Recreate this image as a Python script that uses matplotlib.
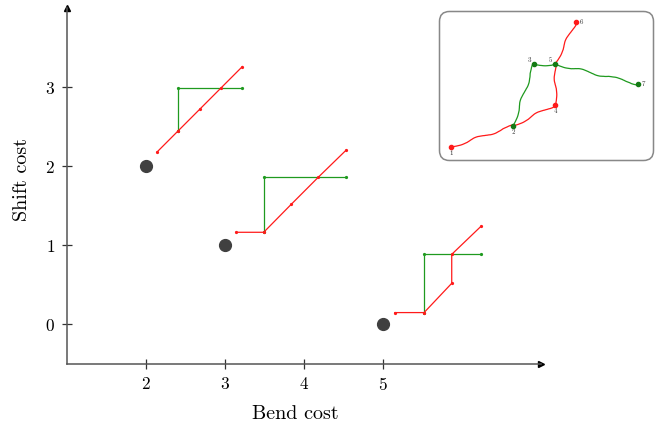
import matplotlib
matplotlib.use("Agg")
import matplotlib.pyplot as plt
from matplotlib.patches import FancyBboxPatch

plt.rcParams["font.family"] = "serif"
plt.rcParams["font.serif"] = ["cmr10"]
plt.rcParams["mathtext.fontset"] = "cm"
plt.rcParams["axes.formatter.use_mathtext"] = True

# --- data ---
dot_x = [2, 3, 5]
dot_y = [2, 1, 0]

red1_x = [2.14, 2.41, 2.68, 2.95, 3.22]
red1_y = [2.18, 2.45, 2.72, 2.99, 3.26]
green1_x = [2.41, 2.41, 3.22]
green1_y = [2.45, 2.99, 2.99]

red2_x = [3.14, 3.49, 3.84, 4.18, 4.53]
red2_y = [1.165, 1.165, 1.52, 1.86, 2.20]
green2_x = [3.49, 3.49, 4.53]
green2_y = [1.165, 1.86, 1.86]

red3_x = [5.15, 5.52, 5.87, 5.87, 6.24]
red3_y = [0.15, 0.15, 0.52, 0.886, 1.24]
green3_x = [5.52, 5.52, 6.24]
green3_y = [0.15, 0.886, 0.886]

x_ticks = [2, 3, 4, 5]
y_ticks = [0, 1, 2, 3]

# inset graph (box-relative coordinates)
nodes = {
    "1": (13, 137), "2": (75, 116), "3": (96, 54), "4": (117, 95),
    "5": (117, 54), "6": (138, 12), "7": (200, 74),
}
red_edges = [("1", "2"), ("2", "4"), ("4", "5"), ("5", "6")]
green_edges = [("2", "3"), ("3", "5"), ("5", "7")]
red_nodes = ["1", "4", "6"]
green_nodes = ["2", "3", "5", "7"]

RED = "#ff1a1a"
GREEN = "#1f9a1f"
AX = "#555555"

fig = plt.figure(figsize=(6.59, 4.22), dpi=100)
ax = fig.add_axes([67 / 659, 58 / 422, 474 / 659, 356 / 422])
ax.set_xlim(1, 7)
ax.set_ylim(-0.5, 4)

for gx, gy in [(green1_x, green1_y), (green2_x, green2_y), (green3_x, green3_y)]:
    ax.plot(gx, gy, color=GREEN, lw=0.9, marker="o", markersize=1.3)
for rx, ry in [(red1_x, red1_y), (red2_x, red2_y), (red3_x, red3_y)]:
    ax.plot(rx, ry, color=RED, lw=0.9, marker="o", markersize=1.3)

ax.plot(dot_x, dot_y, "o", color="#404040", markersize=8.5, linestyle="none")

for s in ["top", "right"]:
    ax.spines[s].set_visible(False)
for s in ["left", "bottom"]:
    ax.spines[s].set_color(AX)
    ax.spines[s].set_linewidth(1.1)
ax.plot(1, 0, marker=">", color="black", markersize=4, transform=ax.transAxes, clip_on=False)
ax.plot(0, 1, marker="^", color="black", markersize=4, transform=ax.transAxes, clip_on=False)

ax.set_xticks(x_ticks)
ax.set_yticks(y_ticks)
ax.tick_params(direction="inout", length=7, width=0.9, color="#333333",
               labelsize=12.5, pad=5)
ax.set_xlabel("Bend cost", fontsize=14.5)
ax.set_ylabel("Shift cost", fontsize=14.5)
ax.xaxis.set_label_coords(0.482, -0.115)
ax.yaxis.set_label_coords(-0.075, 0.517)

# --- inset ---
ins = fig.add_axes([438 / 659, 260 / 422, 217 / 659, 152 / 422])
ins.set_xlim(0, 217)
ins.set_ylim(152, 0)
ins.axis("off")
ins.add_patch(FancyBboxPatch((1.5, 1.5), 214, 149, boxstyle="round,pad=0,rounding_size=10",
                             facecolor="white", edgecolor="#888888", lw=1.1))

for a, b in red_edges:
    ln, = ins.plot([nodes[a][0], nodes[b][0]], [nodes[a][1], nodes[b][1]], color=RED, lw=0.9)
    ln.set_sketch_params(1.3, 40, 2)
for a, b in green_edges:
    ln, = ins.plot([nodes[a][0], nodes[b][0]], [nodes[a][1], nodes[b][1]], color=GREEN, lw=0.9)
    ln.set_sketch_params(1.3, 40, 2)
for n in red_nodes:
    ins.plot(*nodes[n], "o", color=RED, markersize=3)
for n in green_nodes:
    ins.plot(*nodes[n], "o", color="#147a14", markersize=3)

label_off = {"1": (0, 6), "2": (0, 6), "3": (-5, -4), "4": (0, 6),
             "5": (-5, -4), "6": (5, 0), "7": (5, 0)}
for n, (dx, dy) in label_off.items():
    ins.text(nodes[n][0] + dx, nodes[n][1] + dy, n, fontsize=5, color="#333333",
             ha="center", va="center")

fig.savefig("out.png", dpi=100)
